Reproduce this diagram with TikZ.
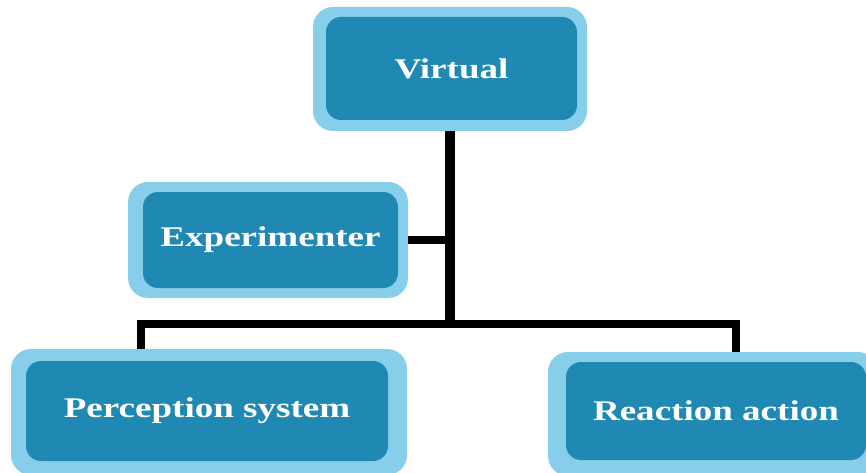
\documentclass[tikz,border=0pt]{standalone}
\usepackage{fontspec}
\newfontfamily\lbl{Liberation Serif}[FakeStretch=1.3]
\definecolor{outerblue}{RGB}{135,206,235}
\definecolor{innerblue}{RGB}{31,136,179}
\tikzset{
  x=1pt, y=-1pt,
  outerbox/.style={fill=outerblue, rounded corners=20pt, inner sep=0pt, anchor=center},
  innerbox/.style={fill=innerblue, rounded corners=15pt, inner sep=0pt, anchor=center,
    text=white, font=\lbl\bfseries\fontsize{28.5}{30}\selectfont},
  conn/.style={line width=8pt, black, line join=miter},
  spine/.style={line width=10pt, black}
}
\begin{document}
\begin{tikzpicture}
\useasboundingbox (0,0) rectangle (866,473);
\clip (0,0) rectangle (866,473);
% Virtual
\node[outerbox, minimum width=274pt, minimum height=124pt] (vo) at (450,69) {};
\node[innerbox, minimum width=251pt, minimum height=103pt] (v) at (451.5,68.5) {Virtual};
% Experimenter
\node[outerbox, minimum width=280pt, minimum height=116pt] (eo) at (268,240) {};
\node[innerbox, minimum width=255pt, minimum height=96pt] (e) at (270.5,240) {Experimenter};
% Perception system
\node[outerbox, minimum width=396pt, minimum height=126pt] (po) at (209,412) {};
\node[innerbox, minimum width=362pt, minimum height=100pt] (p) at (207,411) {Perception system};
% Reaction action
\node[outerbox, minimum width=330pt, minimum height=124pt] (ro) at (713,414) {};
\node[innerbox, minimum width=300pt, minimum height=98pt] (r) at (716,411) {Reaction action};
% connectors
\coordinate (lx) at (141,324);
\coordinate (rx) at (736,324);
\draw[spine] (vo.south) -- (vo.south |- lx);
\draw[conn] (eo.east) -- (eo.east -| vo.south);
\draw[conn] (lx |- po.north) -- (lx) -- (rx) -- (rx |- ro.north);
\end{tikzpicture}
\end{document}
